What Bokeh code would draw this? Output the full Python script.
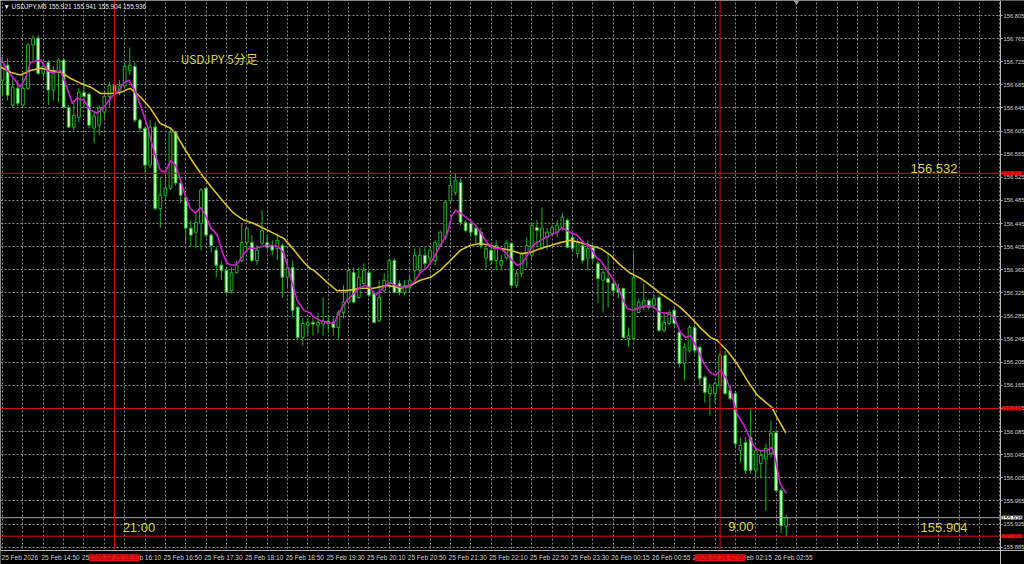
from bokeh.plotting import figure
from bokeh.models import (Range1d, FixedTicker, PrintfTickFormatter, Label, ColumnDataSource,
                          BoxAnnotation)
from bokeh.embed import file_html
from bokeh.resources import INLINE

# ---- OHLC of USDJPY M5 (bar index 0 = leftmost candle) ----
opens = [156.693, 156.719, 156.650, 156.679, 156.650, 156.679, 156.754, 156.766, 156.705, 156.724,
         156.676, 156.707, 156.728, 156.646, 156.612, 156.629, 156.672, 156.669, 156.610, 156.615,
         156.638, 156.665, 156.684, 156.672, 156.683, 156.710, 156.717, 156.624, 156.610, 156.546,
         156.612, 156.471, 156.494, 156.506, 156.603, 156.515, 156.490, 156.437, 156.430, 156.445,
         156.506, 156.425, 156.399, 156.373, 156.364, 156.329, 156.360, 156.381, 156.412, 156.412,
         156.381, 156.411, 156.412, 156.407, 156.402, 156.407, 156.352, 156.369, 156.300, 156.248,
         156.269, 156.274, 156.269, 156.271, 156.276, 156.274, 156.265, 156.291, 156.309, 156.360,
         156.317, 156.341, 156.360, 156.324, 156.277, 156.329, 156.341, 156.381, 156.341, 156.326,
         156.334, 156.364, 156.364, 156.390, 156.385, 156.381, 156.407, 156.421, 156.485, 156.499,
         156.516, 156.447, 156.445, 156.437, 156.430, 156.385, 156.399, 156.381, 156.373, 156.386,
         156.411, 156.338, 156.359, 156.390, 156.390, 156.438, 156.402, 156.421, 156.428, 156.430,
         156.438, 156.451, 156.421, 156.393, 156.407, 156.385, 156.404, 156.376, 156.347, 156.350,
         156.341, 156.333, 156.333, 156.246, 156.246, 156.291, 156.300, 156.312, 156.303, 156.317,
         156.260, 156.272, 156.295, 156.257, 156.203, 156.225, 156.265, 156.231, 156.179, 156.151,
         156.151, 156.165, 156.217, 156.156, 156.151, 156.052, 156.066, 156.075, 156.018, 156.030,
         156.038, 156.047, 156.083, 155.983, 155.921]
highs = [156.733, 156.731, 156.696, 156.693, 156.702, 156.757, 156.771, 156.771, 156.728, 156.728,
         156.717, 156.731, 156.731, 156.650, 156.658, 156.679, 156.693, 156.672, 156.638, 156.650,
         156.672, 156.690, 156.690, 156.693, 156.722, 156.750, 156.724, 156.627, 156.613, 156.624,
         156.620, 156.525, 156.520, 156.612, 156.606, 156.520, 156.494, 156.451, 156.463, 156.506,
         156.508, 156.428, 156.404, 156.381, 156.367, 156.369, 156.381, 156.445, 156.438, 156.425,
         156.407, 156.468, 156.425, 156.416, 156.428, 156.411, 156.381, 156.381, 156.303, 156.281,
         156.281, 156.281, 156.290, 156.317, 156.286, 156.283, 156.295, 156.338, 156.367, 156.369,
         156.369, 156.376, 156.364, 156.329, 156.347, 156.359, 156.385, 156.385, 156.347, 156.347,
         156.355, 156.402, 156.404, 156.404, 156.404, 156.416, 156.433, 156.485, 156.525, 156.532,
         156.523, 156.451, 156.451, 156.442, 156.438, 156.407, 156.407, 156.416, 156.390, 156.416,
         156.412, 156.364, 156.395, 156.421, 156.447, 156.451, 156.473, 156.437, 156.442, 156.451,
         156.463, 156.454, 156.428, 156.419, 156.412, 156.416, 156.407, 156.381, 156.369, 156.393,
         156.350, 156.341, 156.334, 156.265, 156.393, 156.315, 156.341, 156.315, 156.321, 156.321,
         156.291, 156.295, 156.300, 156.260, 156.238, 156.269, 156.269, 156.234, 156.182, 156.168,
         156.172, 156.222, 156.225, 156.165, 156.153, 156.075, 156.075, 156.127, 156.058, 156.052,
         156.064, 156.104, 156.087, 155.987, 155.941]
lows = [156.667, 156.658, 156.646, 156.648, 156.646, 156.676, 156.724, 156.702, 156.696, 156.650,
        156.658, 156.655, 156.645, 156.610, 156.606, 156.620, 156.645, 156.610, 156.584, 156.598,
        156.627, 156.645, 156.669, 156.667, 156.679, 156.702, 156.620, 156.603, 156.534, 156.541,
        156.468, 156.437, 156.489, 156.503, 156.511, 156.480, 156.411, 156.404, 156.402, 156.399,
        156.421, 156.395, 156.352, 156.347, 156.324, 156.324, 156.359, 156.378, 156.395, 156.378,
        156.373, 156.407, 156.399, 156.390, 156.381, 156.317, 156.334, 156.283, 156.243, 156.234,
        156.251, 156.251, 156.255, 156.251, 156.260, 156.251, 156.243, 156.281, 156.307, 156.307,
        156.315, 156.338, 156.317, 156.272, 156.274, 156.326, 156.338, 156.324, 156.321, 156.321,
        156.329, 156.341, 156.360, 156.364, 156.373, 156.373, 156.404, 156.416, 156.480, 156.494,
        156.442, 156.430, 156.421, 156.411, 156.402, 156.367, 156.373, 156.364, 156.364, 156.381,
        156.334, 156.334, 156.352, 156.369, 156.385, 156.404, 156.399, 156.399, 156.425, 156.421,
        156.433, 156.402, 156.395, 156.386, 156.376, 156.364, 156.378, 156.307, 156.291, 156.300,
        156.321, 156.315, 156.246, 156.231, 156.243, 156.290, 156.295, 156.295, 156.298, 156.257,
        156.257, 156.269, 156.265, 156.196, 156.174, 156.222, 156.220, 156.165, 156.135, 156.113,
        156.135, 156.160, 156.148, 156.139, 156.058, 156.032, 156.012, 156.012, 156.004, 156.004,
        155.948, 156.040, 155.980, 155.909, 155.904]
closes = [156.724, 156.667, 156.681, 156.653, 156.679, 156.754, 156.766, 156.705, 156.717, 156.676,
          156.710, 156.728, 156.646, 156.612, 156.632, 156.672, 156.665, 156.615, 156.631, 156.645,
          156.665, 156.684, 156.674, 156.683, 156.717, 156.719, 156.624, 156.610, 156.546, 156.612,
          156.471, 156.494, 156.506, 156.603, 156.515, 156.494, 156.437, 156.425, 156.447, 156.503,
          156.425, 156.407, 156.373, 156.364, 156.326, 156.360, 156.373, 156.412, 156.437, 156.381,
          156.399, 156.433, 156.404, 156.399, 156.416, 156.352, 156.369, 156.295, 156.248, 156.272,
          156.274, 156.271, 156.274, 156.276, 156.272, 156.265, 156.291, 156.309, 156.364, 156.309,
          156.352, 156.364, 156.321, 156.274, 156.317, 156.347, 156.381, 156.326, 156.326, 156.338,
          156.347, 156.390, 156.390, 156.376, 156.399, 156.412, 156.430, 156.482, 156.511, 156.520,
          156.447, 156.433, 156.430, 156.425, 156.407, 156.402, 156.381, 156.407, 156.381, 156.411,
          156.338, 156.359, 156.393, 156.407, 156.442, 156.433, 156.437, 156.430, 156.438, 156.442,
          156.456, 156.404, 156.402, 156.412, 156.381, 156.402, 156.385, 156.350, 156.360, 156.343,
          156.329, 156.326, 156.248, 156.251, 156.352, 156.309, 156.312, 156.300, 156.315, 156.260,
          156.274, 156.291, 156.272, 156.203, 156.231, 156.265, 156.225, 156.177, 156.153, 156.161,
          156.168, 156.217, 156.151, 156.142, 156.064, 156.061, 156.018, 156.018, 156.052, 156.044,
          156.056, 156.082, 155.983, 155.922, 155.936]

# ---- moving averages (bar position, price) ----
ma_fast_bar = [-0.4, 0.9, 2.2, 3.5, 4.5, 5.5, 7.5, 8.8, 10.0, 11.4,
               12.7, 13.7, 14.7, 16.0, 17.3, 18.6, 19.9, 21.2, 22.9, 23.8,
               24.8, 25.8, 27.1, 28.4, 29.7, 31.0, 32.0, 33.0, 34.0, 35.0,
               36.0, 36.9, 37.9, 38.9, 39.9, 40.9, 42.2, 43.2, 44.1, 45.4,
               46.4, 47.4, 48.4, 49.7, 51.7, 53.3, 54.3, 55.3, 56.6, 57.9,
               59.2, 60.5, 61.2, 62.5, 63.8, 65.1, 66.1, 67.4, 68.7, 70.0,
               71.3, 72.3, 73.3, 74.3, 75.2, 76.2, 77.2, 78.2, 79.5, 80.8,
               82.1, 83.4, 84.7, 86.0, 87.4, 88.3, 89.0, 90.0, 91.3, 92.6,
               93.9, 95.2, 96.5, 97.8, 99.1, 100.1, 101.1, 102.1, 103.1, 104.1,
               105.0, 106.3, 107.7, 109.0, 109.9, 110.9, 111.9, 112.9, 114.2, 115.5,
               116.8, 117.5, 118.8, 120.1, 121.4, 122.7, 124.0, 125.3, 126.7, 128.0,
               129.3, 130.6, 131.9, 133.2, 134.2, 135.2, 136.5, 137.8, 139.1, 140.1,
               141.1, 142.1, 143.1, 144.3, 145.7, 146.9, 147.9, 148.9, 150.2, 151.2,
               151.8, 152.8, 154.0]
ma_fast_val = [156.733, 156.710, 156.696, 156.681, 156.696, 156.724, 156.728, 156.710, 156.705, 156.710,
               156.679, 156.653, 156.662, 156.658, 156.641, 156.636, 156.646, 156.662, 156.676, 156.688,
               156.693, 156.679, 156.650, 156.615, 156.572, 156.537, 156.534, 156.554, 156.546, 156.520,
               156.490, 156.471, 156.463, 156.473, 156.459, 156.438, 156.425, 156.395, 156.376, 156.373,
               156.378, 156.393, 156.402, 156.402, 156.407, 156.407, 156.404, 156.393, 156.352, 156.312,
               156.295, 156.290, 156.283, 156.277, 156.274, 156.272, 156.290, 156.309, 156.321, 156.333,
               156.338, 156.333, 156.321, 156.329, 156.338, 156.343, 156.338, 156.335, 156.335, 156.343,
               156.360, 156.369, 156.385, 156.407, 156.428, 156.459, 156.468, 156.463, 156.454, 156.445,
               156.430, 156.412, 156.402, 156.402, 156.393, 156.381, 156.373, 156.376, 156.390, 156.407,
               156.412, 156.419, 156.425, 156.430, 156.438, 156.433, 156.428, 156.425, 156.412, 156.404,
               156.385, 156.381, 156.364, 156.347, 156.324, 156.298, 156.295, 156.300, 156.303, 156.300,
               156.291, 156.290, 156.283, 156.257, 156.248, 156.251, 156.229, 156.203, 156.187, 156.182,
               156.191, 156.179, 156.156, 156.116, 156.096, 156.073, 156.056, 156.052, 156.052, 156.058,
               156.040, 155.995, 155.978]
ma_slow_bar = [-0.4, 1.6, 3.5, 5.5, 7.5, 9.4, 11.4, 13.4, 15.3, 17.3,
               19.3, 21.2, 23.2, 25.1, 27.1, 29.1, 31.0, 33.0, 34.0, 35.6,
               37.6, 39.5, 41.5, 43.5, 45.4, 47.4, 49.4, 51.3, 53.3, 55.3,
               57.3, 59.2, 60.5, 61.2, 63.8, 65.7, 67.7, 70.3, 72.9, 75.6,
               78.2, 80.2, 82.1, 84.1, 86.0, 88.0, 90.0, 91.9, 93.9, 95.9,
               97.8, 99.8, 101.8, 103.7, 105.7, 107.7, 109.6, 111.6, 113.6, 115.5,
               117.5, 119.5, 121.4, 123.4, 125.4, 127.3, 129.3, 131.3, 133.2, 135.2,
               137.2, 139.1, 140.4, 142.4, 144.3, 146.3, 148.3, 150.2, 151.2, 152.2, 153.9]
ma_slow_val = [156.716, 156.707, 156.702, 156.710, 156.714, 156.710, 156.707, 156.696, 156.688, 156.681,
               156.670, 156.670, 156.672, 156.679, 156.664, 156.644, 156.618, 156.610, 156.601, 156.577,
               156.549, 156.525, 156.503, 156.482, 156.463, 156.451, 156.445, 156.437, 156.428, 156.419,
               156.399, 156.378, 156.367, 156.364, 156.343, 156.329, 156.329, 156.333, 156.333, 156.338,
               156.333, 156.338, 156.347, 156.352, 156.364, 156.381, 156.399, 156.407, 156.411, 156.407,
               156.402, 156.399, 156.393, 156.395, 156.402, 156.407, 156.412, 156.416, 156.412, 156.407,
               156.402, 156.390, 156.373, 156.359, 156.350, 156.338, 156.324, 156.312, 156.300, 156.283,
               156.264, 156.248, 156.243, 156.225, 156.203, 156.174, 156.148, 156.134, 156.127, 156.109, 156.083]

# ---- axes ----
time_tick_bars = [0, 8, 16, 24, 32, 40, 48, 56, 64, 72, 80, 88, 96, 104, 112, 120, 128, 136, 144, 152]
time_tick_labels = ["25 Feb 2026", "25 Feb 14:50", "25 Feb 15:30", "25 Feb 16:10", "25 Feb 16:50",
                    "25 Feb 17:30", "25 Feb 18:10", "25 Feb 18:50", "25 Feb 19:30", "25 Feb 20:10",
                    "25 Feb 20:50", "25 Feb 21:30", "25 Feb 22:10", "25 Feb 22:50", "25 Feb 23:30",
                    "26 Feb 00:15", "26 Feb 00:55", "26 Feb 01:35", "26 Feb 02:15", "26 Feb 02:55"]
price_ticks = [155.885, 155.925, 155.965, 156.005, 156.045, 156.085, 156.125, 156.165, 156.205,
               156.245, 156.285, 156.325, 156.365, 156.405, 156.445, 156.485, 156.525, 156.565,
               156.605, 156.645, 156.685, 156.725, 156.765, 156.805]

# ---- drawn objects ----
hline_levels = [156.532, 156.125, 155.904]
vline_bars = [22, 141]
vline_tags = ["2026.02.25 16:00", "2026.02.26 02:00"]
shift_marker_bar = [156]

# price pane and full canvas ranges (axis strips are inside the canvas)
X0, X1 = -0.4, 196.1
Y0, Y1 = 155.879, 156.831
X_END = 200.816
Y_BOT = 155.855
LABEL_SHIFT = 3.4          # MT4 time labels start at their bar (left aligned)
GREEN = "#22b422"
RED = "#d81010"
YEL = "#dcd24a"
GRID = "#8c8c8c"
AXC = "#b4b4b4"

n = len(opens)
bars = list(range(n))
src = ColumnDataSource(dict(
    x=bars, high=highs, low=lows,
    top=[max(o, c) for o, c in zip(opens, closes)],
    bottom=[min(o, c) for o, c in zip(opens, closes)],
    fill=["#000000" if c >= o else "#d2ffd2" for o, c in zip(opens, closes)],
))

p = figure(width=1024, height=564, x_range=Range1d(X0, X_END), y_range=Range1d(Y_BOT, Y1),
           y_axis_location="right", output_backend="svg", toolbar_location=None,
           background_fill_color="#000000", border_fill_color="#000000",
           min_border_left=0, min_border_top=0, min_border_right=0, min_border_bottom=0,
           outline_line_color=None)

# grid
p.xgrid.ticker = FixedTicker(ticks=list(range(0, 197, 4)))
p.ygrid.ticker = FixedTicker(ticks=price_ticks)
for g in (p.xgrid, p.ygrid):
    g.grid_line_color = GRID
    g.grid_line_dash = "2 2"
    g.grid_line_width = 1

# black strips for the axis areas (hide grid there)
p.add_layout(BoxAnnotation(left=X1, fill_color="#000000", fill_alpha=1, line_alpha=0, level="underlay"))
p.add_layout(BoxAnnotation(top=Y0, fill_color="#000000", fill_alpha=1, line_alpha=0, level="underlay"))
# pane border (left / top)
p.add_layout(BoxAnnotation(left=X0, right=X1, bottom=Y0, top=Y1, fill_alpha=0,
                           line_color=AXC, line_width=1, level="underlay"))

# right price axis, pinned to the pane's right edge
ya = p.yaxis[0]
ya.fixed_location = X1
ya.ticker = FixedTicker(ticks=price_ticks)
ya.formatter = PrintfTickFormatter(format="%.3f")
ya.major_label_text_font_size = "5.8px"
ya.major_label_text_font = "Liberation Sans"
ya.major_label_text_color = "#d0d0d0"
ya.axis_line_color = AXC
ya.major_tick_line_color = AXC
ya.major_tick_out = 2
ya.major_tick_in = 0
ya.minor_tick_out = 0
ya.minor_tick_in = 0
ya.major_label_standoff = 1

# bottom time axis, pinned to the pane's bottom edge
shifted = [b + LABEL_SHIFT for b in time_tick_bars]
xa = p.xaxis[0]
xa.fixed_location = Y0
xa.ticker = FixedTicker(ticks=shifted)
xa.major_label_overrides = {s: t for s, t in zip(shifted, time_tick_labels)}
xa.major_label_text_font_size = "6.5px"
xa.major_label_text_font = "Liberation Sans"
xa.major_label_text_color = "#d0d0d0"
xa.axis_line_color = AXC
xa.major_tick_out = 0
xa.major_tick_in = 0
xa.minor_tick_out = 0
xa.minor_tick_in = 0
xa.major_label_standoff = 3

# candles
p.segment(x0="x", y0="low", x1="x", y1="high", source=src, line_color=GREEN, line_width=1)
p.vbar(x="x", top="top", bottom="bottom", width=0.54, source=src,
       fill_color="fill", line_color=GREEN, line_width=1)

# moving averages
p.line(ma_slow_bar, ma_slow_val, line_color="#dcc22a", line_width=1.6)
p.line(ma_fast_bar, ma_fast_val, line_color="#d21ed2", line_width=1.6)

# bid line
p.segment(x0=[X0], x1=[X1], y0=[closes[-1]], y1=[closes[-1]], line_color="#a8a8a8", line_width=1)

# red lines
p.segment(x0=[X0] * len(hline_levels), x1=[X1] * len(hline_levels), y0=hline_levels, y1=hline_levels,
          line_color=RED, line_width=1)
p.segment(x0=vline_bars, x1=vline_bars, y0=[Y0] * len(vline_bars), y1=[Y1] * len(vline_bars),
          line_color=RED, line_width=1)

# chart-shift marker at the top edge
p.scatter(x=shift_marker_bar, y=[Y1] * len(shift_marker_bar), marker="inverted_triangle",
          size=7, fill_color="#9a9a9a", line_color="#9a9a9a")

# price tags on the right axis
for lvl in hline_levels:
    p.add_layout(Label(x=X1, y=lvl, x_offset=1, text=f"{lvl:.3f}", text_font_size="5.8px",
                       text_font="Liberation Sans", text_color="#a00000",
                       background_fill_color="#ee1414", text_align="left", text_baseline="middle"))
p.add_layout(Label(x=X1, y=closes[-1], x_offset=1, text=f"{closes[-1]:.3f}",
                   text_font_size="5.8px", text_font="Liberation Sans", text_color="#000000",
                   background_fill_color="#f0f0f0", text_align="left", text_baseline="middle"))

# time tags on the bottom axis
for b, t in zip(vline_bars, vline_tags):
    p.add_layout(Label(x=b, y=Y0, y_offset=-7, text=t, text_font_size="6.5px",
                       text_font="Liberation Sans", text_color="#a00000",
                       background_fill_color="#ee1414", text_align="center", text_baseline="middle"))

# header
p.add_layout(Label(x=X0, y=Y1, x_offset=3, y_offset=-6,
                   text=f"\u25BC USDJPY,M5  {opens[-1]:.3f} {highs[-1]:.3f} {lows[-1]:.3f} {closes[-1]:.3f}",
                   text_font_size="6.4px", text_font="Liberation Sans", text_color="#e8e8e8",
                   text_baseline="middle", text_align="left"))

# yellow notes
p.add_layout(Label(x=35.0, y=156.731, text="USDJPY 5分足", text_font="Noto Sans CJK JP",
                   text_font_size="12px", text_color=YEL, text_baseline="middle"))
p.add_layout(Label(x=178.4, y=156.541, text="156.532", text_font="Liberation Sans",
                   text_font_size="13px", text_color=YEL, text_baseline="middle"))
p.add_layout(Label(x=180.4, y=155.919, text="155.904", text_font="Liberation Sans",
                   text_font_size="13px", text_color=YEL, text_baseline="middle"))
p.add_layout(Label(x=23.6, y=155.919, text="21:00", text_font="Liberation Sans",
                   text_font_size="13px", text_color=YEL, text_baseline="middle"))
p.add_layout(Label(x=142.6, y=155.921, text="9:00", text_font="Liberation Sans",
                   text_font_size="13px", text_color=YEL, text_baseline="middle"))

open("out.html", "w").write(file_html(p, INLINE))
